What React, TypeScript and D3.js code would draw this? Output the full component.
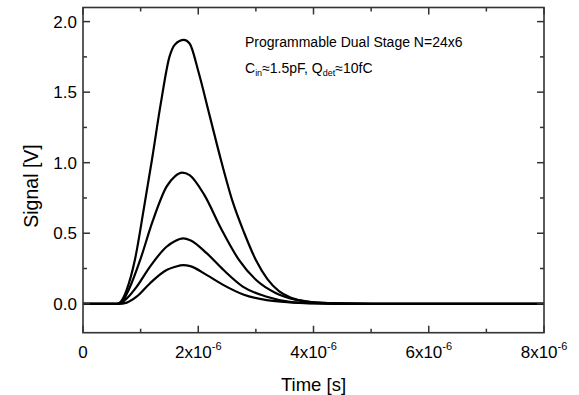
import React from "react";
import * as d3 from "d3";

// Time in microseconds, signal in volts
const timeA = [0, 0.6, 0.65, 0.75, 0.9, 1.05, 1.2, 1.35, 1.5, 1.6, 1.75, 1.85, 2.0, 2.2, 2.4, 2.6, 2.8, 3.0, 3.2, 3.4, 3.6, 3.8, 4.0, 4.4, 5.0, 8.0];
const signalA = [0, 0, 0.012, 0.09, 0.31, 0.66, 1.03, 1.42, 1.75, 1.84, 1.87, 1.845, 1.65, 1.33, 1.01, 0.72, 0.5, 0.31, 0.175, 0.09, 0.045, 0.022, 0.01, 0.003, 0, 0];

const timeB = [0, 0.6, 0.7, 0.8, 1.0, 1.2, 1.45, 1.6, 1.72, 1.85, 2.1, 2.4, 2.7, 3.0, 3.35, 3.7, 4.0, 4.4, 5.0, 8.0];
const signalB = [0, 0, 0.026, 0.105, 0.32, 0.575, 0.83, 0.905, 0.93, 0.912, 0.775, 0.53, 0.315, 0.17, 0.075, 0.028, 0.01, 0.003, 0, 0];

const timeC = [0, 0.6, 0.65, 0.76, 0.93, 1.16, 1.45, 1.6, 1.74, 1.86, 2.15, 2.44, 2.78, 3.19, 3.59, 4.0, 4.5, 8.0];
const signalC = [0, 0, 0.005, 0.038, 0.12, 0.262, 0.404, 0.445, 0.463, 0.451, 0.357, 0.239, 0.12, 0.05, 0.014, 0.004, 0, 0];

const timeD = [0, 0.62, 0.76, 0.93, 1.16, 1.45, 1.6, 1.74, 1.86, 2.15, 2.44, 2.78, 3.19, 3.59, 4.0, 4.5, 8.0];
const signalD = [0, 0, 0.008, 0.05, 0.144, 0.239, 0.262, 0.274, 0.267, 0.203, 0.132, 0.066, 0.026, 0.01, 0.003, 0, 0];

const xMajorTicks = [0, 2, 4, 6, 8];
const xMinorTicks = [1, 3, 5, 7];
const yMajorTicks = [0, 0.5, 1.0, 1.5, 2.0];
const yMinorTicks = [0.25, 0.75, 1.25, 1.75];

const series = [
  { t: timeA, v: signalA },
  { t: timeB, v: signalB },
  { t: timeC, v: signalC },
  { t: timeD, v: signalD },
];

const W = 579;
const H = 395;
const left = 83;
const right = 544;
const top = 7.5;
const bottom = 332.7;

export default function App() {
  const x = d3.scaleLinear().domain([0, 8]).range([left, right]);
  const y = d3.scaleLinear().domain([-0.205, 2.1]).range([bottom, top]);
  const line = d3
    .line<[number, number]>()
    .x((d) => x(d[0]))
    .y((d) => y(d[1]))
    .curve(d3.curveMonotoneX);

  const font = "Liberation Sans, Arial, sans-serif";
  const axisColor = "#333";
  const majLen = 7;
  const minLen = 4;

  return (
    <svg
      width={W}
      height={H}
      style={{ position: "absolute", left: 0, top: 0, background: "#fff" }}
      fontFamily={font}
    >
      <defs>
        <clipPath id="plotClip">
          <rect x={left} y={top} width={right - left} height={bottom - top} />
        </clipPath>
      </defs>
      <g clipPath="url(#plotClip)">
        {series.map((s, i) => (
          <path
            key={i}
            d={line(s.t.map((t, j) => [t, s.v[j]] as [number, number])) || ""}
            fill="none"
            stroke="#000"
            strokeWidth={2.2}
            strokeLinejoin="round"
          />
        ))}
      </g>
      <rect
        x={left}
        y={top}
        width={right - left}
        height={bottom - top}
        fill="none"
        stroke={axisColor}
        strokeWidth={1.6}
      />
      {xMajorTicks.map((t) => (
        <g key={"xM" + t}>
          <line x1={x(t)} x2={x(t)} y1={bottom} y2={bottom - majLen} stroke={axisColor} strokeWidth={1.5} />
          <line x1={x(t)} x2={x(t)} y1={top} y2={top + majLen} stroke={axisColor} strokeWidth={1.5} />
        </g>
      ))}
      {xMinorTicks.map((t) => (
        <g key={"xm" + t}>
          <line x1={x(t)} x2={x(t)} y1={bottom} y2={bottom - minLen} stroke={axisColor} strokeWidth={1.5} />
          <line x1={x(t)} x2={x(t)} y1={top} y2={top + minLen} stroke={axisColor} strokeWidth={1.5} />
        </g>
      ))}
      {yMajorTicks.map((v) => (
        <g key={"yM" + v}>
          <line x1={left} x2={left + majLen} y1={y(v)} y2={y(v)} stroke={axisColor} strokeWidth={1.5} />
          <line x1={right} x2={right - majLen} y1={y(v)} y2={y(v)} stroke={axisColor} strokeWidth={1.5} />
        </g>
      ))}
      {yMinorTicks.map((v) => (
        <g key={"ym" + v}>
          <line x1={left} x2={left + minLen} y1={y(v)} y2={y(v)} stroke={axisColor} strokeWidth={1.5} />
          <line x1={right} x2={right - minLen} y1={y(v)} y2={y(v)} stroke={axisColor} strokeWidth={1.5} />
        </g>
      ))}
      {yMajorTicks.map((v) => (
        <text key={"yl" + v} x={left - 6} y={y(v) + 6} fontSize={17} textAnchor="end" fill="#000">
          {v.toFixed(1)}
        </text>
      ))}
      {xMajorTicks.map((t) =>
        t === 0 ? (
          <text key={"xl" + t} x={x(t)} y={358} fontSize={17} textAnchor="middle" fill="#000">
            0
          </text>
        ) : (
          <text key={"xl" + t} x={x(t)} y={358} fontSize={17} textAnchor="middle" fill="#000">
            {t}x10
            <tspan fontSize={11} dy={-8}>
              -6
            </tspan>
          </text>
        )
      )}
      <text x={(left + right) / 2} y={391} fontSize={18.5} textAnchor="middle" fill="#000">
        Time [s]
      </text>
      <text
        transform={`translate(38, 186) rotate(-90)`}
        fontSize={19.5}
        textAnchor="middle"
        fill="#000"
      >
        Signal [V]
      </text>
      <text x={245} y={47} fontSize={14} fill="#000">
        Programmable Dual Stage N=24x6
      </text>
      <text x={245} y={72.5} fontSize={14} fill="#000">
        C
        <tspan fontSize={9} dy={3}>in</tspan>
        <tspan dy={-3}>≈1.5pF, Q</tspan>
        <tspan fontSize={9} dy={3}>det</tspan>
        <tspan dy={-3}>≈10fC</tspan>
      </text>
    </svg>
  );
}
